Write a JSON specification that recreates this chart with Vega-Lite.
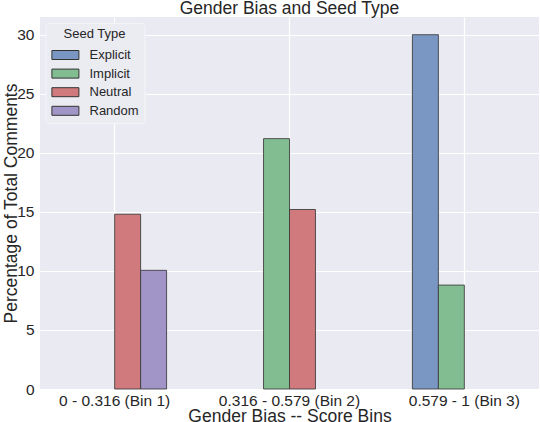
{
  "$schema": "https://vega.github.io/schema/vega-lite/v6.json",
  "autosize": "none",
  "padding": {"left": 40, "top": 17, "right": 1, "bottom": 33},
  "width": 499,
  "height": 372,
  "background": "white",
  "config": {
    "font": "Liberation Sans",
    "view": {"fill": "#EAEAF2", "stroke": null}
  },
  "title": {
    "text": "Gender Bias and Seed Type",
    "fontSize": 17.5,
    "fontWeight": "normal",
    "color": "#262626",
    "offset": 0
  },
  "data": {
    "values": [
      {"bin": "0 - 0.316 (Bin 1)", "seed": "Neutral", "pct": 14.8},
      {"bin": "0 - 0.316 (Bin 1)", "seed": "Random", "pct": 10.05},
      {"bin": "0.316 - 0.579 (Bin 2)", "seed": "Implicit", "pct": 21.2},
      {"bin": "0.316 - 0.579 (Bin 2)", "seed": "Neutral", "pct": 15.2},
      {"bin": "0.579 - 1 (Bin 3)", "seed": "Explicit", "pct": 30.0},
      {"bin": "0.579 - 1 (Bin 3)", "seed": "Implicit", "pct": 8.8}
    ]
  },
  "mark": {"type": "bar", "stroke": "#3a3a3a", "strokeWidth": 1, "strokeOpacity": 0.85},
  "encoding": {
    "x": {
      "field": "bin",
      "type": "nominal",
      "title": "Gender Bias -- Score Bins",
      "scale": {"paddingInner": 0.406, "paddingOuter": 0.13},
      "axis": {
        "labelAngle": 0,
        "labelFontSize": 15.5,
        "labelColor": "#262626",
        "labelBaseline": "alphabetic",
        "labelPadding": 16,
        "titleFontSize": 17.5,
        "titleFontWeight": "normal",
        "titleColor": "#262626",
        "titleBaseline": "alphabetic",
        "titleY": 32,
        "domain": false,
        "ticks": false,
        "grid": true,
        "gridColor": "white",
        "gridWidth": 1.2,
        "bandPosition": 0.5
      }
    },
    "xOffset": {
      "field": "seed",
      "type": "nominal",
      "scale": {"domain": ["Explicit", "Implicit", "Neutral", "Random"], "paddingInner": 0, "paddingOuter": 0}
    },
    "y": {
      "field": "pct",
      "type": "quantitative",
      "title": "Percentage of Total Comments",
      "scale": {"domain": [0, 31.5], "nice": false},
      "axis": {
        "values": [0, 5, 10, 15, 20, 25, 30],
        "labelFontSize": 15.5,
        "labelColor": "#262626",
        "labelPadding": 6,
        "titleFontSize": 17.5,
        "titleFontWeight": "normal",
        "titleColor": "#262626",
        "titleBaseline": "alphabetic",
        "titleAngle": 270,
        "titleAlign": "center",
        "titleX": -24,
        "titleY": 186,
        "domain": false,
        "ticks": false,
        "gridColor": "white",
        "gridWidth": 1.2
      }
    },
    "color": {
      "field": "seed",
      "type": "nominal",
      "scale": {
        "domain": ["Explicit", "Implicit", "Neutral", "Random"],
        "range": ["#7A97C3", "#82BD92", "#D07A7D", "#A194C6"]
      },
      "legend": {
        "title": "Seed Type",
        "orient": "none",
        "legendX": 5.5,
        "legendY": 6,
        "titleAnchor": "middle",
        "titleFontSize": 13,
        "titleFontWeight": "normal",
        "titleColor": "#262626",
        "titlePadding": 4.5,
        "labelFontSize": 13,
        "labelColor": "#262626",
        "labelOffset": 20,
        "symbolType": "M-0.9,-0.5L2.1,-0.5L2.1,0.5L-0.9,0.5Z",
        "symbolSize": 324,
        "symbolStrokeColor": "#333333",
        "symbolStrokeWidth": 1,
        "symbolOpacity": 1,
        "rowPadding": 1.6,
        "padding": 5,
        "fillColor": "#EBEBF2",
        "strokeColor": "#F4F4F8",
        "cornerRadius": 3
      }
    }
  }
}
